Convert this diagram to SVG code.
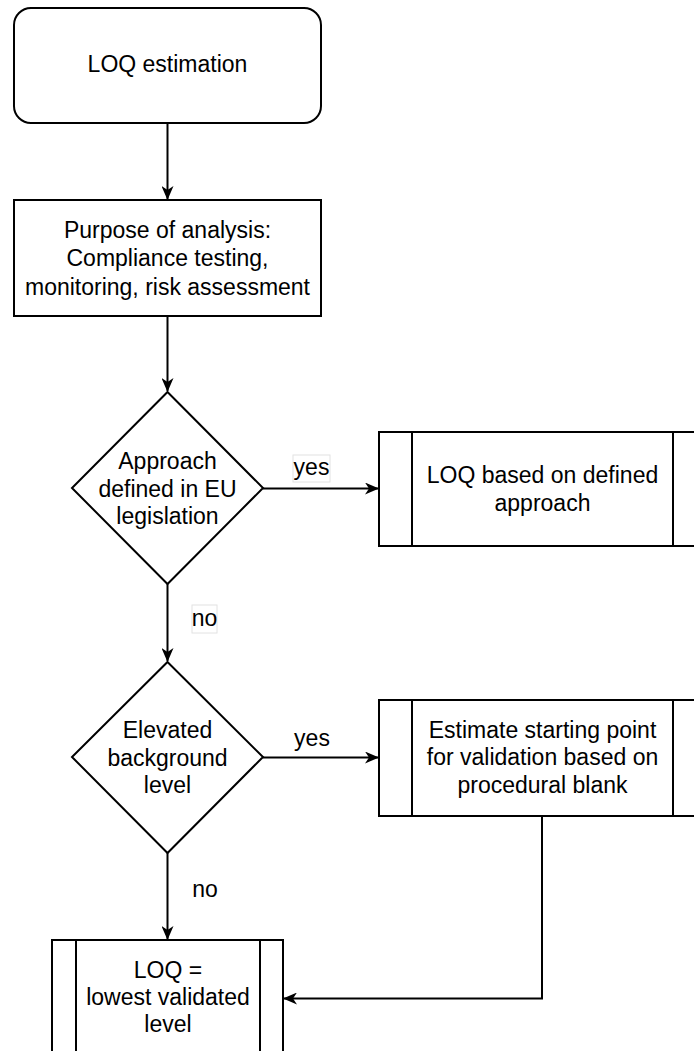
<svg xmlns="http://www.w3.org/2000/svg" width="694" height="1051" viewBox="0 0 694 1051">
<style>
.s{fill:#fff;stroke:#000;stroke-width:2}
.l{fill:none;stroke:#000;stroke-width:2}
text{font-family:"Liberation Sans",Arial,sans-serif;font-size:23px;fill:#000;text-anchor:middle}
.lb{fill:#fff;stroke:#e2e2e2;stroke-width:1}
</style>
<defs>
<marker id="a" viewBox="0 0 14 12" refX="13" refY="6" markerWidth="14" markerHeight="12" markerUnits="userSpaceOnUse" orient="auto">
<path d="M0,0 L14,6 L0,12 L4,6 Z" fill="#000"/>
</marker>
</defs>
<g id="connectors">
<path class="l" d="M167.5,123 V199" marker-end="url(#a)"/>
<path class="l" d="M167.5,316 V391" marker-end="url(#a)"/>
<path class="l" d="M263,488.5 H378" marker-end="url(#a)"/>
<path class="l" d="M167.5,584 V661" marker-end="url(#a)"/>
<path class="l" d="M263,757.5 H378" marker-end="url(#a)"/>
<path class="l" d="M167.5,853 V939" marker-end="url(#a)"/>
<path class="l" d="M542,816 V998.5 H284" marker-end="url(#a)"/>
<g id="label-yes1"><rect class="lb" x="293" y="455" width="37" height="27"/><text x="311.5" y="475">yes</text></g>
<g id="label-no1"><rect class="lb" x="192" y="605" width="25" height="28"/><text x="204.5" y="626">no</text></g>
<g id="label-yes2"><text x="312" y="746">yes</text></g>
<g id="label-no2"><text x="205" y="897">no</text></g>
</g>
<g id="start">
<rect class="s" x="14" y="8" width="307" height="115" rx="17"/>
<text x="167.5" y="72">LOQ estimation</text>
</g>
<g id="purpose">
<rect class="s" x="14" y="200" width="307" height="116"/>
<text x="167.5" y="238">Purpose of analysis:</text>
<text x="167.5" y="266">Compliance testing,</text>
<text x="167.5" y="294.5">monitoring, risk assessment</text>
</g>
<g id="decision1">
<path class="s" d="M167.5,392 L263,488 L167.5,584 L72,488 Z"/>
<text x="167.5" y="469">Approach</text>
<text x="167.5" y="496.5">defined in EU</text>
<text x="167.5" y="524">legislation</text>
</g>
<g id="defined">
<rect class="s" x="379" y="432" width="328" height="114"/>
<path class="l" d="M412,432 V546 M673,432 V546"/>
<text x="542.5" y="483">LOQ based on defined</text>
<text x="542.5" y="510.5">approach</text>
</g>
<g id="decision2">
<path class="s" d="M167.5,662 L263,757 L167.5,853 L72,757 Z"/>
<text x="167.5" y="738">Elevated</text>
<text x="167.5" y="765.5">background</text>
<text x="167.5" y="793">level</text>
</g>
<g id="estimate">
<rect class="s" x="379" y="700" width="328" height="116"/>
<path class="l" d="M412,700 V816 M673,700 V816"/>
<text x="542.5" y="737.5">Estimate starting point</text>
<text x="542.5" y="765">for validation based on</text>
<text x="542.5" y="792.5">procedural blank</text>
</g>
<g id="lowest">
<rect class="s" x="52" y="940" width="231" height="118"/>
<path class="l" d="M76,940 V1058 M260,940 V1058"/>
<text x="168" y="977.5">LOQ =</text>
<text x="168" y="1005">lowest validated</text>
<text x="168" y="1032">level</text>
</g>
</svg>
